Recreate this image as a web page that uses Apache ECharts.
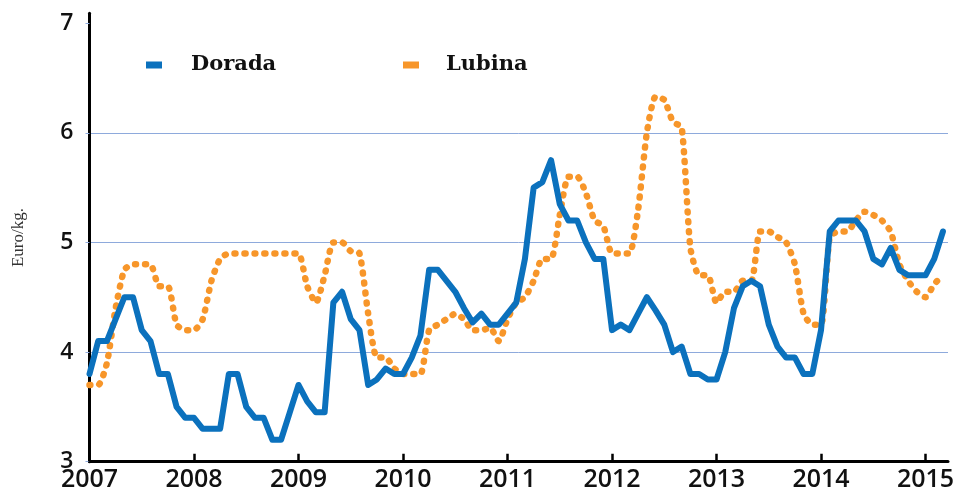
<!DOCTYPE html>
<html>
<head>
<meta charset="utf-8">
<script src="https://cdn.jsdelivr.net/npm/echarts@6/dist/echarts.min.js"></script>
<style>
html,body{margin:0;padding:0;background:#fff;}
#chart{width:964px;height:497px;}
</style>
</head>
<body>
<div id="chart"></div>
<script>
// Monthly prices, Jan 2007 .. Mar 2015 (Euro/kg.)
const startYear = 2007;
const yearTicks = [2007, 2008, 2009, 2010, 2011, 2012, 2013, 2014, 2015];
const valueTicks = [3, 4, 5, 6, 7];
const seriesNames = ['Dorada', 'Lubina'];

const dorada = [
  3.8, 4.1, 4.1, 4.3, 4.5, 4.5, 4.2, 4.1, 3.8, 3.8, 3.5, 3.4,
  3.4, 3.3, 3.3, 3.3, 3.8, 3.8, 3.5, 3.4, 3.4, 3.2, 3.2, 3.45,
  3.7, 3.55, 3.45, 3.45, 4.45, 4.55, 4.3, 4.2, 3.7, 3.75, 3.85, 3.8,
  3.8, 3.95, 4.15, 4.75, 4.75, 4.65, 4.55, 4.4, 4.27, 4.35, 4.25, 4.25,
  4.35, 4.45, 4.85, 5.5, 5.55, 5.75, 5.35, 5.2, 5.2, 5.0, 4.85, 4.85,
  4.2, 4.25, 4.2, 4.35, 4.5, 4.38, 4.25, 4.0, 4.05, 3.8, 3.8, 3.75,
  3.75, 4.0, 4.4, 4.6, 4.65, 4.6, 4.25, 4.05, 3.95, 3.95, 3.8, 3.8,
  4.2, 5.1, 5.2, 5.2, 5.2, 5.1, 4.85, 4.8, 4.95, 4.75, 4.7, 4.7,
  4.7, 4.85, 5.1
];

const lubina = [
  3.7, 3.7, 3.9, 4.4, 4.75, 4.8, 4.8, 4.8, 4.6, 4.6, 4.25, 4.2,
  4.2, 4.3, 4.65, 4.85, 4.9, 4.9, 4.9, 4.9, 4.9, 4.9, 4.9, 4.9,
  4.9, 4.6, 4.45, 4.7, 5.0, 5.0, 4.92, 4.9, 4.35, 3.95, 3.95, 3.85,
  3.8, 3.8, 3.8, 4.2, 4.25, 4.3, 4.35, 4.3, 4.2, 4.2, 4.22, 4.1,
  4.3, 4.45, 4.5, 4.65, 4.85, 4.85, 5.25, 5.6, 5.6, 5.45, 5.2, 5.15,
  4.9, 4.9, 4.9, 5.3, 6.0, 6.33, 6.3, 6.1, 6.05, 4.95, 4.7, 4.7,
  4.45, 4.55, 4.55, 4.65, 4.65, 5.1, 5.1, 5.05, 5.0, 4.8, 4.35, 4.25,
  4.25, 5.05, 5.1, 5.1, 5.2, 5.28, 5.25, 5.2, 5.1, 4.8, 4.65, 4.55,
  4.5, 4.62, 4.7
];

const toPairs = arr => arr.map((v, i) => [startYear + i / 12, v]);

const BLUE = '#0b71bd';
const ORANGE = '#f7962a';
const tickFont = { fontFamily: 'Open Sans', color: '#111', fontWeight: 600 };

const chart = echarts.init(document.getElementById('chart'));
chart.setOption({
  animation: false,
  backgroundColor: '#fff',
  grid: { left: 89.5, right: 16, top: 13.3, bottom: 35.3, containLabel: false },
  legend: [
    {
      left: 141, top: 48, selectedMode: false,
      itemWidth: 16, itemHeight: 7,
      data: [{ name: seriesNames[0], icon: 'rect' }],
      textStyle: { fontFamily: 'DejaVu Serif', fontWeight: 'bold', fontSize: 21, color: '#111', lineHeight: 24, padding: [0, 0, 0, 24] }
    },
    {
      left: 398, top: 48, selectedMode: false,
      itemWidth: 16, itemHeight: 7,
      data: [{ name: seriesNames[1], icon: 'rect' }],
      textStyle: { fontFamily: 'DejaVu Serif', fontWeight: 'bold', fontSize: 21, color: '#111', lineHeight: 24, padding: [0, 0, 0, 22] }
    }
  ],
  xAxis: {
    type: 'value',
    min: 2007, max: 2015.215, interval: 1,
    axisLine: { show: true, onZero: false, lineStyle: { color: '#000', width: 3 } },
    axisTick: { show: true, inside: true, length: 8, customValues: yearTicks, lineStyle: { color: '#000', width: 2.5 } },
    axisLabel: { customValues: yearTicks, margin: 6, formatter: v => String(Math.round(v)), ...tickFont, fontSize: 25 },
    splitLine: { show: false }
  },
  yAxis: {
    type: 'value',
    min: 3, max: 7.09, interval: 1,
    name: 'Euro/kg.', nameLocation: 'middle', nameGap: 62,
    nameTextStyle: { fontFamily: 'Liberation Serif', fontSize: 17, color: '#333' },
    axisLine: { show: true, lineStyle: { color: '#000', width: 3 } },
    axisTick: { show: true, length: 4, customValues: valueTicks, lineStyle: { color: '#8eaadc', width: 1 } },
    axisLabel: { customValues: valueTicks, margin: 16, ...tickFont, fontSize: 23 },
    splitLine: { show: true, showMinLine: false, showMaxLine: false, lineStyle: { color: '#8eaadc', width: 1 } }
  },
  series: [
    {
      name: seriesNames[1], type: 'line', data: toPairs(lubina),
      showSymbol: false, smooth: 0.2, z: 2,
      itemStyle: { color: ORANGE },
      lineStyle: { color: ORANGE, width: 6.5, type: [1, 9], cap: 'round', join: 'round' }
    },
    {
      name: seriesNames[0], type: 'line', data: toPairs(dorada),
      showSymbol: false, smooth: false, z: 3,
      itemStyle: { color: BLUE },
      lineStyle: { color: BLUE, width: 6, join: 'round', cap: 'round' }
    }
  ]
});
</script>
</body>
</html>
